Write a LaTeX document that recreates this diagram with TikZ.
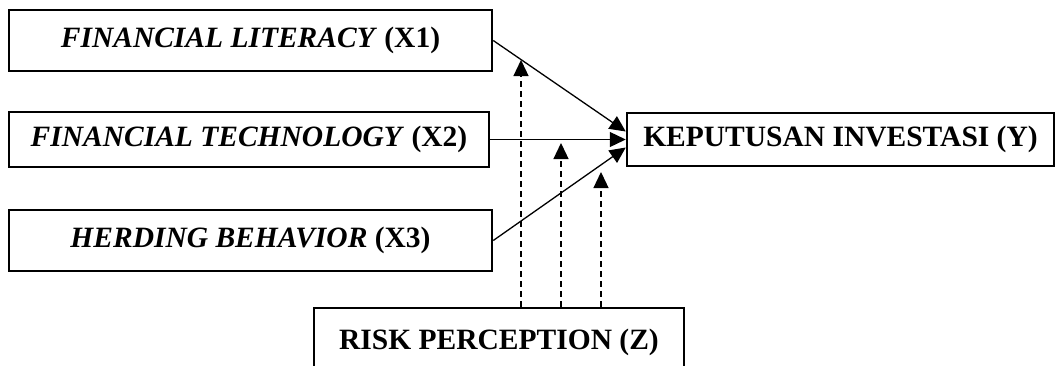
\documentclass[tikz,border=0pt]{standalone}
\usepackage{fontspec}
\setmainfont{Liberation Serif}
\usetikzlibrary{arrows.meta}
\begin{document}
\begin{tikzpicture}[x=1pt,y=-1pt,
  box/.style={draw, line width=2.5pt, inner sep=0pt, align=center,
    font=\fontsize{29.5}{34}\selectfont\bfseries},
  link/.style={line width=1.3pt, -{Triangle[length=16pt,width=15pt]}},
  modlink/.style={line width=1.3pt, dash pattern=on 6pt off 4pt, -{Triangle[length=16pt,width=15pt]}}]
\useasboundingbox (0,0) rectangle (1057,365);
\node[box, minimum width=483pt, minimum height=61pt] (x1) at (250.5,40.5) {\textit{FINANCIAL LITERACY} (X1)};
\node[box, minimum width=480pt, minimum height=55pt] (x2) at (249,139.5) {\textit{FINANCIAL TECHNOLOGY} (X2)};
\node[box, minimum width=483pt, minimum height=61pt] (x3) at (250.5,240.5) {\textit{HERDING BEHAVIOR} (X3)};
\node[box, minimum width=427pt, minimum height=53pt] (y) at (840.5,139.5) {KEPUTUSAN INVESTASI (Y)};
\node[box, minimum width=370pt, minimum height=68pt] (z) at (499,342) {RISK PERCEPTION (Z)};
\coordinate (t1) at ([yshift=8pt]y.west);
\coordinate (t3) at ([yshift=-8pt]y.west);
\draw[link] (x1.east) -- (t1);
\draw[link] (x2.east) -- (y.west);
\draw[link] (x3.east) -- (t3);
\coordinate (d1) at (521,60);
\coordinate (d2) at (561,143);
\coordinate (d3) at (601,172);
\draw[modlink] (d1 |- z.north) -- (d1);
\draw[modlink] (d2 |- z.north) -- (d2);
\draw[modlink] (d3 |- z.north) -- (d3);
\end{tikzpicture}
\end{document}
